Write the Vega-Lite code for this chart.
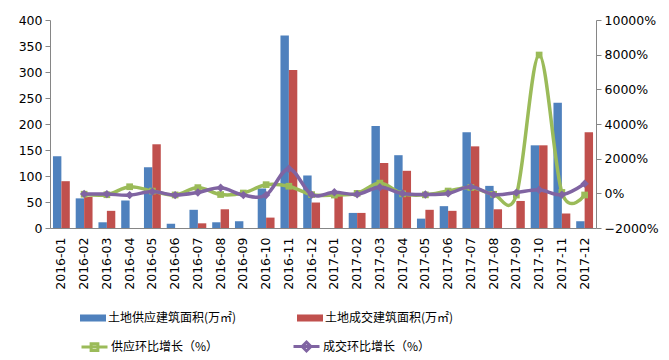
{
  "$schema": "https://vega.github.io/schema/vega-lite/v6.json",
  "autosize": {"type": "none"},
  "width": 546,
  "height": 208,
  "padding": {"left": 50, "top": 20, "right": 73, "bottom": 132},
  "background": "white",
  "config": {
    "view": {"stroke": null},
    "font": "DejaVu Sans",
    "axis": {"labelFont": "DejaVu Sans", "labelFontSize": 12.5, "labelColor": "#000000", "domainColor": "#868686", "tickColor": "#868686", "grid": false, "title": null}
  },
  "datasets": {
    "bars": [
      {"m": "2016-01", "s": "土地供应建筑面积(万㎡)", "v": 138}, {"m": "2016-01", "s": "土地成交建筑面积(万㎡)", "v": 90},
      {"m": "2016-02", "s": "土地供应建筑面积(万㎡)", "v": 57}, {"m": "2016-02", "s": "土地成交建筑面积(万㎡)", "v": 60},
      {"m": "2016-03", "s": "土地供应建筑面积(万㎡)", "v": 11}, {"m": "2016-03", "s": "土地成交建筑面积(万㎡)", "v": 33},
      {"m": "2016-04", "s": "土地供应建筑面积(万㎡)", "v": 53}, {"m": "2016-04", "s": "土地成交建筑面积(万㎡)", "v": 0},
      {"m": "2016-05", "s": "土地供应建筑面积(万㎡)", "v": 117}, {"m": "2016-05", "s": "土地成交建筑面积(万㎡)", "v": 161},
      {"m": "2016-06", "s": "土地供应建筑面积(万㎡)", "v": 8}, {"m": "2016-06", "s": "土地成交建筑面积(万㎡)", "v": 0},
      {"m": "2016-07", "s": "土地供应建筑面积(万㎡)", "v": 35}, {"m": "2016-07", "s": "土地成交建筑面积(万㎡)", "v": 9},
      {"m": "2016-08", "s": "土地供应建筑面积(万㎡)", "v": 11}, {"m": "2016-08", "s": "土地成交建筑面积(万㎡)", "v": 36},
      {"m": "2016-09", "s": "土地供应建筑面积(万㎡)", "v": 13}, {"m": "2016-09", "s": "土地成交建筑面积(万㎡)", "v": 0},
      {"m": "2016-10", "s": "土地供应建筑面积(万㎡)", "v": 76}, {"m": "2016-10", "s": "土地成交建筑面积(万㎡)", "v": 20},
      {"m": "2016-11", "s": "土地供应建筑面积(万㎡)", "v": 370}, {"m": "2016-11", "s": "土地成交建筑面积(万㎡)", "v": 304},
      {"m": "2016-12", "s": "土地供应建筑面积(万㎡)", "v": 101}, {"m": "2016-12", "s": "土地成交建筑面积(万㎡)", "v": 49},
      {"m": "2017-01", "s": "土地供应建筑面积(万㎡)", "v": 0}, {"m": "2017-01", "s": "土地成交建筑面积(万㎡)", "v": 63},
      {"m": "2017-02", "s": "土地供应建筑面积(万㎡)", "v": 29}, {"m": "2017-02", "s": "土地成交建筑面积(万㎡)", "v": 29},
      {"m": "2017-03", "s": "土地供应建筑面积(万㎡)", "v": 196}, {"m": "2017-03", "s": "土地成交建筑面积(万㎡)", "v": 125},
      {"m": "2017-04", "s": "土地供应建筑面积(万㎡)", "v": 140}, {"m": "2017-04", "s": "土地成交建筑面积(万㎡)", "v": 110},
      {"m": "2017-05", "s": "土地供应建筑面积(万㎡)", "v": 18}, {"m": "2017-05", "s": "土地成交建筑面积(万㎡)", "v": 35},
      {"m": "2017-06", "s": "土地供应建筑面积(万㎡)", "v": 42}, {"m": "2017-06", "s": "土地成交建筑面积(万㎡)", "v": 33},
      {"m": "2017-07", "s": "土地供应建筑面积(万㎡)", "v": 184}, {"m": "2017-07", "s": "土地成交建筑面积(万㎡)", "v": 157},
      {"m": "2017-08", "s": "土地供应建筑面积(万㎡)", "v": 81}, {"m": "2017-08", "s": "土地成交建筑面积(万㎡)", "v": 36},
      {"m": "2017-09", "s": "土地供应建筑面积(万㎡)", "v": 0}, {"m": "2017-09", "s": "土地成交建筑面积(万㎡)", "v": 52},
      {"m": "2017-10", "s": "土地供应建筑面积(万㎡)", "v": 159}, {"m": "2017-10", "s": "土地成交建筑面积(万㎡)", "v": 159},
      {"m": "2017-11", "s": "土地供应建筑面积(万㎡)", "v": 241}, {"m": "2017-11", "s": "土地成交建筑面积(万㎡)", "v": 28},
      {"m": "2017-12", "s": "土地供应建筑面积(万㎡)", "v": 13}, {"m": "2017-12", "s": "土地成交建筑面积(万㎡)", "v": 184}
    ],
    "lines": [
      {"m": "2016-02", "t": "供应环比增长（%）", "p": -50}, {"m": "2016-02", "t": "成交环比增长（%）", "p": -33},
      {"m": "2016-03", "t": "供应环比增长（%）", "p": -81}, {"m": "2016-03", "t": "成交环比增长（%）", "p": -45},
      {"m": "2016-04", "t": "供应环比增长（%）", "p": 380}, {"m": "2016-04", "t": "成交环比增长（%）", "p": -100},
      {"m": "2016-05", "t": "供应环比增长（%）", "p": 130}, {"m": "2016-05", "t": "成交环比增长（%）", "p": 100},
      {"m": "2016-06", "t": "供应环比增长（%）", "p": -93}, {"m": "2016-06", "t": "成交环比增长（%）", "p": -100},
      {"m": "2016-07", "t": "供应环比增长（%）", "p": 330}, {"m": "2016-07", "t": "成交环比增长（%）", "p": 50},
      {"m": "2016-08", "t": "供应环比增长（%）", "p": -69}, {"m": "2016-08", "t": "成交环比增长（%）", "p": 320},
      {"m": "2016-09", "t": "供应环比增长（%）", "p": 18}, {"m": "2016-09", "t": "成交环比增长（%）", "p": -100},
      {"m": "2016-10", "t": "供应环比增长（%）", "p": 500}, {"m": "2016-10", "t": "成交环比增长（%）", "p": -100},
      {"m": "2016-11", "t": "供应环比增长（%）", "p": 410}, {"m": "2016-11", "t": "成交环比增长（%）", "p": 1420},
      {"m": "2016-12", "t": "供应环比增长（%）", "p": -73}, {"m": "2016-12", "t": "成交环比增长（%）", "p": -84},
      {"m": "2017-01", "t": "供应环比增长（%）", "p": -100}, {"m": "2017-01", "t": "成交环比增长（%）", "p": 60},
      {"m": "2017-02", "t": "供应环比增长（%）", "p": 0}, {"m": "2017-02", "t": "成交环比增长（%）", "p": -54},
      {"m": "2017-03", "t": "供应环比增长（%）", "p": 590}, {"m": "2017-03", "t": "成交环比增长（%）", "p": 350},
      {"m": "2017-04", "t": "供应环比增长（%）", "p": -29}, {"m": "2017-04", "t": "成交环比增长（%）", "p": -12},
      {"m": "2017-05", "t": "供应环比增长（%）", "p": -87}, {"m": "2017-05", "t": "成交环比增长（%）", "p": -68},
      {"m": "2017-06", "t": "供应环比增长（%）", "p": 133}, {"m": "2017-06", "t": "成交环比增长（%）", "p": -6},
      {"m": "2017-07", "t": "供应环比增长（%）", "p": 338}, {"m": "2017-07", "t": "成交环比增长（%）", "p": 376},
      {"m": "2017-08", "t": "供应环比增长（%）", "p": -56}, {"m": "2017-08", "t": "成交环比增长（%）", "p": -77},
      {"m": "2017-09", "t": "供应环比增长（%）", "p": -100}, {"m": "2017-09", "t": "成交环比增长（%）", "p": 44},
      {"m": "2017-10", "t": "供应环比增长（%）", "p": 7980}, {"m": "2017-10", "t": "成交环比增长（%）", "p": 206},
      {"m": "2017-11", "t": "供应环比增长（%）", "p": 52}, {"m": "2017-11", "t": "成交环比增长（%）", "p": -82},
      {"m": "2017-12", "t": "供应环比增长（%）", "p": -95}, {"m": "2017-12", "t": "成交环比增长（%）", "p": 557}
    ],
    "keys": [
      {"t": "供应环比增长（%）"}, {"t": "成交环比增长（%）"}
    ]
  },
  "encoding": {
    "x": {
      "field": "m", "type": "nominal", "sort": null,
      "scale": {"paddingInner": 0.26, "paddingOuter": 0.13},
      "axis": {"labelAngle": 270, "labelAlign": "right", "labelBaseline": "middle", "labelPadding": 9, "ticks": false, "domainColor": "#868686"}
    }
  },
  "layer": [
    {
      "data": {"name": "bars"},
      "mark": {"type": "bar"},
      "encoding": {
        "xOffset": {"field": "s", "type": "nominal", "sort": ["土地供应建筑面积(万㎡)", "土地成交建筑面积(万㎡)"], "scale": {"paddingInner": 0, "paddingOuter": 0}},
        "y": {"field": "v", "type": "quantitative", "scale": {"domain": [0, 400], "nice": false}, "axis": {"orient": "left", "values": [0, 50, 100, 150, 200, 250, 300, 350, 400], "tickSize": 5, "labelPadding": 3}},
        "color": {
          "field": "s", "type": "nominal",
          "scale": {"domain": ["土地供应建筑面积(万㎡)", "土地成交建筑面积(万㎡)"], "range": ["#4F81BD", "#C0504D"]},
          "legend": {"orient": "none", "legendX": 30, "legendY": 285, "direction": "horizontal", "columns": 2, "title": null, "symbolType": "M-1,-0.27H1V0.27H-1Z", "symbolSize": 676, "symbolStrokeWidth": 0, "labelFont": "Noto Sans CJK SC", "labelFontSize": 12, "labelColor": "#000000", "labelOffset": 2, "labelLimit": 300, "columnPadding": 60}
        }
      }
    },
    {
      "encoding": {
        "y": {"field": "p", "type": "quantitative", "scale": {"domain": [-2000, 10000], "nice": false}, "axis": {"orient": "right", "values": [-2000, 0, 2000, 4000, 6000, 8000, 10000], "labelExpr": "format(datum.value, 'd') + '%'", "tickSize": 5, "labelPadding": 3}}
      },
      "layer": [
        {
          "data": {"name": "lines"},
          "transform": [{"filter": "datum.t === '供应环比增长（%）'"}],
          "mark": {"type": "line", "interpolate": "cardinal", "strokeWidth": 3.5},
          "encoding": {
            "stroke": {"field": "t", "type": "nominal", "sort": null, "scale": {"domain": ["供应环比增长（%）", "成交环比增长（%）"], "range": ["#9BBB59", "#8064A2"]},
              "legend": {"orient": "none", "legendX": 30, "legendY": 312, "direction": "horizontal", "columns": 2, "title": null, "symbolSize": 676, "symbolStrokeWidth": 3, "symbolOpacity": 1, "labelFont": "Noto Sans CJK SC", "labelFontSize": 12, "labelColor": "#000000", "labelOffset": 2, "labelLimit": 300, "columnPadding": 68}}
          }
        },
        {
          "data": {"name": "lines"},
          "transform": [{"filter": "datum.t === '供应环比增长（%）'"}],
          "mark": {"type": "point", "shape": "square", "filled": true, "size": 45, "opacity": 1, "color": "#9BBB59"},
          "encoding": {}
        },
        {
          "data": {"name": "lines"},
          "transform": [{"filter": "datum.t === '成交环比增长（%）'"}],
          "mark": {"type": "line", "interpolate": "cardinal", "strokeWidth": 3.5},
          "encoding": {
            "stroke": {"field": "t", "type": "nominal", "sort": null}
          }
        },
        {
          "data": {"name": "lines"},
          "transform": [{"filter": "datum.t === '成交环比增长（%）'"}],
          "mark": {"type": "point", "shape": "diamond", "filled": true, "size": 70, "opacity": 1, "color": "#8064A2"},
          "encoding": {}
        },
        {
          "data": {"name": "keys"},
          "mark": {"type": "point", "opacity": 0, "filled": false, "strokeWidth": 3},
          "encoding": {
            "x": {"value": 0},
            "y": {"value": 0},
            "stroke": {"field": "t", "type": "nominal", "sort": null},
            "shape": {"field": "t", "type": "nominal", "sort": null, "scale": {"domain": ["供应环比增长（%）", "成交环比增长（%）"], "range": ["M-1,0H1M-0.26,-0.26H0.26V0.26H-0.26Z", "M-1,0H1M0,-0.34L0.34,0L0,0.34L-0.34,0Z"]}},
            "fill": {"field": "t", "type": "nominal", "sort": null, "scale": {"domain": ["供应环比增长（%）", "成交环比增长（%）"], "range": ["#9BBB59", "#8064A2"]}}
          }
        }
      ]
    }
  ],
  "resolve": {"scale": {"y": "independent"}}
}
